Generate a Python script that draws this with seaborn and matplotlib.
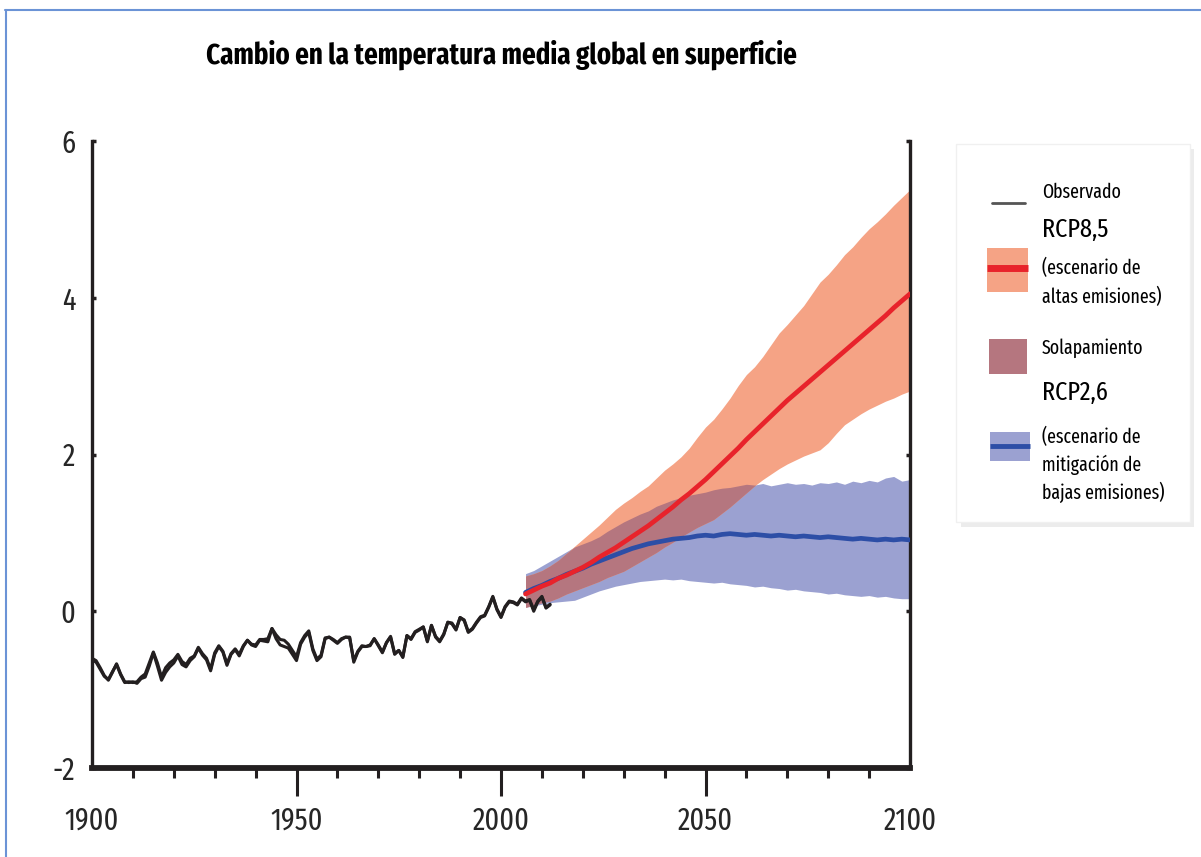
import numpy as np
import matplotlib
matplotlib.use("Agg")
import matplotlib.pyplot as plt
from matplotlib.patches import Rectangle
from matplotlib.lines import Line2D
from matplotlib.ticker import MultipleLocator
import seaborn as sns

# datos observados (anomalía, 1900-2012), dos conjuntos casi superpuestos
obs_years = np.arange(1900, 2013)
obs_a = [-0.60, -0.63, -0.72, -0.82, -0.88, -0.78, -0.67, -0.80, -0.90, -0.91,
         -0.90, -0.92, -0.86, -0.84, -0.70, -0.53, -0.70, -0.88, -0.78, -0.71,
         -0.66, -0.57, -0.68, -0.71, -0.63, -0.58, -0.47, -0.56, -0.62, -0.76,
         -0.55, -0.45, -0.52, -0.69, -0.55, -0.49, -0.57, -0.45, -0.37, -0.43,
         -0.45, -0.37, -0.38, -0.39, -0.22, -0.35, -0.43, -0.45, -0.47, -0.55,
         -0.63, -0.42, -0.33, -0.27, -0.50, -0.63, -0.58, -0.35, -0.33, -0.37,
         -0.41, -0.36, -0.33, -0.33, -0.65, -0.52, -0.45, -0.45, -0.44, -0.35,
         -0.44, -0.53, -0.40, -0.33, -0.55, -0.50, -0.59, -0.31, -0.36, -0.27,
         -0.24, -0.20, -0.39, -0.18, -0.33, -0.39, -0.30, -0.14, -0.16, -0.24,
         -0.08, -0.12, -0.27, -0.23, -0.15, -0.08, -0.06, 0.05, 0.18, 0.02,
         -0.08, 0.05, 0.12, 0.11, 0.08, 0.16, 0.12, 0.14, 0.00, 0.12,
         0.18, 0.04, 0.08]
obs_b = [-0.62, -0.65, -0.74, -0.83, -0.87, -0.77, -0.68, -0.81, -0.91, -0.90,
         -0.91, -0.90, -0.84, -0.80, -0.66, -0.52, -0.66, -0.84, -0.72, -0.66,
         -0.62, -0.55, -0.64, -0.68, -0.60, -0.57, -0.46, -0.54, -0.60, -0.74,
         -0.53, -0.44, -0.51, -0.67, -0.54, -0.48, -0.55, -0.44, -0.37, -0.42,
         -0.43, -0.36, -0.36, -0.35, -0.22, -0.30, -0.36, -0.37, -0.42, -0.50,
         -0.58, -0.40, -0.31, -0.25, -0.48, -0.61, -0.56, -0.34, -0.33, -0.36,
         -0.40, -0.35, -0.33, -0.34, -0.63, -0.51, -0.44, -0.45, -0.43, -0.35,
         -0.43, -0.52, -0.40, -0.32, -0.54, -0.50, -0.58, -0.31, -0.35, -0.26,
         -0.23, -0.20, -0.38, -0.18, -0.32, -0.38, -0.29, -0.14, -0.15, -0.23,
         -0.08, -0.11, -0.26, -0.22, -0.14, -0.07, -0.05, 0.06, 0.19, 0.03,
         -0.07, 0.06, 0.13, 0.12, 0.09, 0.17, 0.13, 0.15, 0.02, 0.13,
         0.19, 0.05, 0.09]

# proyecciones 2006-2100 cada 2 años
proj_years = np.arange(2006, 2101, 2)
rcp85_mean = [0.22, 0.27, 0.32, 0.36, 0.42, 0.46, 0.51, 0.56, 0.62, 0.69,
              0.75, 0.81, 0.88, 0.95, 1.02, 1.09, 1.17, 1.25, 1.33, 1.42,
              1.50, 1.59, 1.68, 1.78, 1.88, 1.98, 2.08, 2.19, 2.29, 2.39,
              2.49, 2.59, 2.69, 2.78, 2.87, 2.96, 3.05, 3.14, 3.23, 3.32,
              3.41, 3.50, 3.59, 3.68, 3.77, 3.87, 3.96, 4.05]
rcp85_hi = [0.45, 0.48, 0.52, 0.58, 0.65, 0.74, 0.83, 0.92, 1.01, 1.10,
            1.20, 1.30, 1.38, 1.45, 1.53, 1.60, 1.70, 1.80, 1.88, 1.97,
            2.08, 2.22, 2.35, 2.45, 2.58, 2.72, 2.88, 3.02, 3.12, 3.25,
            3.40, 3.55, 3.66, 3.78, 3.90, 4.05, 4.20, 4.30, 4.42, 4.55,
            4.65, 4.77, 4.88, 4.97, 5.07, 5.18, 5.28, 5.38]
rcp85_lo = [0.05, 0.08, 0.11, 0.13, 0.17, 0.22, 0.26, 0.30, 0.34, 0.38,
            0.43, 0.47, 0.51, 0.57, 0.63, 0.69, 0.75, 0.82, 0.88, 0.95,
            1.01, 1.07, 1.12, 1.17, 1.25, 1.33, 1.42, 1.51, 1.60, 1.68,
            1.75, 1.82, 1.88, 1.93, 1.98, 2.02, 2.06, 2.15, 2.27, 2.38,
            2.45, 2.52, 2.58, 2.63, 2.68, 2.72, 2.77, 2.81]
rcp26_mean = [0.24, 0.29, 0.33, 0.38, 0.42, 0.47, 0.51, 0.55, 0.60, 0.64,
              0.68, 0.72, 0.76, 0.80, 0.83, 0.86, 0.88, 0.90, 0.92, 0.93,
              0.94, 0.96, 0.97, 0.96, 0.98, 0.99, 0.98, 0.97, 0.98, 0.97,
              0.96, 0.97, 0.96, 0.95, 0.96, 0.95, 0.94, 0.95, 0.94, 0.93,
              0.92, 0.93, 0.92, 0.91, 0.92, 0.91, 0.92, 0.91]
rcp26_hi = [0.48, 0.52, 0.58, 0.64, 0.70, 0.76, 0.82, 0.86, 0.90, 0.95,
            1.02, 1.08, 1.14, 1.19, 1.24, 1.28, 1.34, 1.38, 1.42, 1.45,
            1.48, 1.50, 1.52, 1.55, 1.57, 1.58, 1.60, 1.62, 1.61, 1.63,
            1.60, 1.62, 1.64, 1.62, 1.63, 1.61, 1.64, 1.63, 1.65, 1.62,
            1.66, 1.64, 1.67, 1.65, 1.70, 1.72, 1.66, 1.68]
rcp26_lo = [0.05, 0.07, 0.09, 0.11, 0.12, 0.13, 0.14, 0.18, 0.22, 0.26,
            0.29, 0.32, 0.34, 0.36, 0.38, 0.39, 0.40, 0.41, 0.40, 0.41,
            0.39, 0.38, 0.37, 0.36, 0.37, 0.35, 0.34, 0.33, 0.31, 0.32,
            0.30, 0.29, 0.27, 0.28, 0.26, 0.25, 0.24, 0.22, 0.23, 0.21,
            0.20, 0.19, 0.20, 0.18, 0.19, 0.17, 0.16, 0.16]

x_ticks = [1900, 1950, 2000, 2050, 2100]
y_ticks = [-2, 0, 2, 4, 6]

# colores
c_obs = '#231f20'
c_red = '#e8232b'
c_salmon = '#f5a385'
c_blue = '#2d4ea6'
c_lblue = '#9ba1d1'
c_overlap = '#b5767f'

sns.set_style('white')
fuente = ['Fira Sans Extra Condensed', 'Roboto Condensed', 'DejaVu Sans']
plt.rcParams['font.family'] = fuente

W, H = 1201, 857
fig = plt.figure(figsize=(W / 100, H / 100), dpi=100)
ax = fig.add_axes([92 / W, 1 - 768 / H, (910 - 92) / W, (768 - 141) / H])

# bandas
ax.fill_between(proj_years, rcp26_lo, rcp26_hi, color=c_lblue, lw=0, zorder=1)
ax.fill_between(proj_years, rcp85_lo, rcp85_hi, color=c_salmon, lw=0, zorder=2)
ov_lo = np.maximum(rcp85_lo, rcp26_lo)
ov_hi = np.minimum(rcp85_hi, rcp26_hi)
ax.fill_between(proj_years, ov_lo, ov_hi, where=ov_hi > ov_lo, interpolate=True,
                color=c_overlap, lw=0, zorder=3)

# medias
sns.lineplot(x=proj_years, y=rcp26_mean, ax=ax, color=c_blue, linewidth=3.4, zorder=4)
sns.lineplot(x=proj_years, y=rcp85_mean, ax=ax, color=c_red, linewidth=3.4, zorder=5)

# observado
sns.lineplot(x=obs_years, y=obs_b, ax=ax, color=c_obs, linewidth=2.2, zorder=6)
sns.lineplot(x=obs_years, y=obs_a, ax=ax, color=c_obs, linewidth=2.2, zorder=6)

ax.set_xlim(1900, 2100)
ax.set_ylim(-2, 6)
ax.set_xlabel('')
ax.set_ylabel('')

for s in ['left', 'right']:
    ax.spines[s].set_linewidth(2.4)
    ax.spines[s].set_color('#231f20')
ax.spines['bottom'].set_linewidth(4.2)
ax.spines['bottom'].set_color('#231f20')
ax.spines['top'].set_visible(False)

ax.set_xticks(x_ticks)
ax.set_xticklabels([str(t) for t in x_ticks])
ax.xaxis.set_minor_locator(MultipleLocator(10))
ax.tick_params(axis='x', which='major', direction='out', length=20, width=2.2,
               color='#231f20', labelsize=22, pad=7, bottom=True)
ax.tick_params(axis='x', which='minor', direction='out', length=7, width=2.2,
               color='#231f20', bottom=True)
ax.get_xaxis().get_major_ticks()[0].tick1line.set_visible(False)
ax.get_xaxis().get_major_ticks()[-1].tick1line.set_visible(False)

ax.set_yticks(y_ticks)
ax.set_yticklabels([str(t) for t in y_ticks])
ax.tick_params(axis='y', direction='in', length=3, width=2.5, color='#231f20',
               labelsize=22, pad=12, left=True, right=True)

fig.text(501 / W, 1 - 55 / H, 'Cambio en la temperatura media global en superficie',
         ha='center', va='center', fontsize=21, fontweight='bold', color='black')


# leyenda dibujada a mano
def px(x, y):
    return (x / W, 1 - y / H)


fig.add_artist(Rectangle(px(961, 527), (1194 - 961) / W, (527 - 149) / H,
                         transform=fig.transFigure, facecolor='#ececec', lw=0, zorder=1))
fig.add_artist(Rectangle(px(956, 522), (1190 - 956) / W, (522 - 144) / H,
                         transform=fig.transFigure, facecolor='white',
                         edgecolor='#f0f0f0', lw=1, zorder=2))

fig.add_artist(Line2D([992 / W, 1025 / W], [1 - 203 / H] * 2, transform=fig.transFigure,
                      color='#555555', lw=2, zorder=3))
fig.add_artist(Rectangle(px(987, 292), 41 / W, 44 / H, transform=fig.transFigure,
                         facecolor=c_salmon, lw=0, zorder=3))
fig.add_artist(Line2D([987 / W, 1028 / W], [1 - 268 / H] * 2, transform=fig.transFigure,
                      color=c_red, lw=5, solid_capstyle='butt', zorder=4))
fig.add_artist(Rectangle(px(989, 374), 38 / W, 35 / H, transform=fig.transFigure,
                         facecolor=c_overlap, lw=0, zorder=3))
fig.add_artist(Rectangle(px(990, 461), 40 / W, 29 / H, transform=fig.transFigure,
                         facecolor=c_lblue, lw=0, zorder=3))
fig.add_artist(Line2D([990 / W, 1030 / W], [1 - 446 / H] * 2, transform=fig.transFigure,
                      color=c_blue, lw=3.5, solid_capstyle='butt', zorder=4))

small = 14
big = 19
leg_items = [(192, 'Observado', small), (230, 'RCP8,5', big),
             (268, '(escenario de', small), (297, 'altas emisiones)', small),
             (348, 'Solapamiento', small), (393, 'RCP2,6', big),
             (437, '(escenario de', small), (465, 'mitigación de', small),
             (492, 'bajas emisiones)', small)]
for yy, txt, fs in leg_items:
    fig.text(1042 / W, 1 - yy / H, txt, ha='left', va='center', fontsize=fs,
             color='black', zorder=5)

# marco azul de la captura
fig.add_artist(Line2D([5 / W, 1], [1 - 10 / H] * 2, transform=fig.transFigure,
                      color='#6b93d6', lw=1.5))
fig.add_artist(Line2D([6 / W] * 2, [0, 1 - 10 / H], transform=fig.transFigure,
                      color='#6b93d6', lw=1.5))

fig.savefig('out.png', dpi=100)
